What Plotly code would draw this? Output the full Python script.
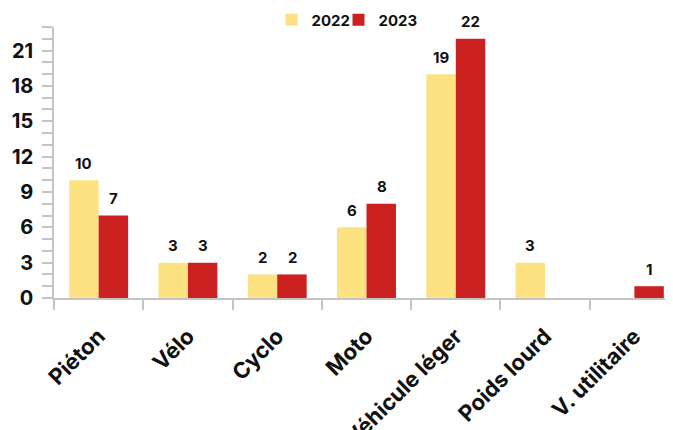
import plotly.graph_objects as go

categories = ["Piéton", "Vélo", "Cyclo", "Moto", "Véhicule léger", "Poids lourd", "V. utilitaire"]
values_2022 = [10, 3, 2, 6, 19, 3, 0]
values_2023 = [7, 3, 2, 8, 22, 0, 1]
y_ticks = [0, 3, 6, 9, 12, 15, 18, 21]

YELLOW = "#FDE281"
RED = "#CB2120"
FONT = "Inter"

fig = go.Figure()
fig.add_trace(go.Bar(name="2022", x=categories, y=values_2022, marker_color=YELLOW, marker_line_width=0,
                     legend="legend", showlegend=True))
fig.add_trace(go.Bar(name="2023", x=categories, y=values_2023, marker_color=RED, marker_line_width=0,
                     legend="legend2", showlegend=True))

annotations = []
for cat, v in zip(categories, values_2022):
    if v:
        annotations.append(dict(x=cat, y=v, text=str(v), showarrow=False, xshift=-15, yshift=17,
                                font=dict(family=FONT, size=15, color="#111", weight="bold")))
for cat, v in zip(categories, values_2023):
    if v:
        annotations.append(dict(x=cat, y=v, text=str(v), showarrow=False, xshift=15, yshift=17,
                                font=dict(family=FONT, size=15, color="#111", weight="bold")))

legend_style = dict(orientation="h", xanchor="left", y=1.026, yanchor="middle",
                    font=dict(family=FONT, size=15, weight="bold"), itemwidth=30,
                    bgcolor="rgba(0,0,0,0)", visible=True)

fig.update_layout(
    width=673, height=430,
    margin=dict(l=46, r=2, t=19, b=140, autoexpand=False),
    paper_bgcolor="white", plot_bgcolor="white",
    barmode="group", bargap=0.34, bargroupgap=0,
    font=dict(family=FONT, color="#111"),
    showlegend=True,
    legend=dict(x=0.348, **legend_style),
    legend2=dict(x=0.4552, **legend_style),
    annotations=annotations,
    xaxis=dict(range=[-0.5, 6.5], showline=True, linecolor="#c4c4c4", linewidth=1.5,
               ticks="outside", tickson="boundaries", ticklen=10, tickcolor="#c4c4c4", tickwidth=1.5,
               tickangle=-45, tickfont=dict(family=FONT, size=22, weight="bold", color="#111"),
               ticklabelstandoff=15, automargin=False, showgrid=False),
    yaxis=dict(range=[0, 23], tickvals=y_ticks, showline=True, linecolor="#c4c4c4", linewidth=1.5,
               ticks="outside", ticklen=10, tickcolor="#c4c4c4", tickwidth=1.5,
               minor=dict(dtick=1, ticks="outside", ticklen=10, tickcolor="#c4c4c4", tickwidth=1.5, showgrid=False),
               tickfont=dict(family=FONT, size=20, weight="bold", color="#111"),
               ticklabelstandoff=5, automargin=False, showgrid=False, zeroline=False),
)

fig.write_html("out.html")
